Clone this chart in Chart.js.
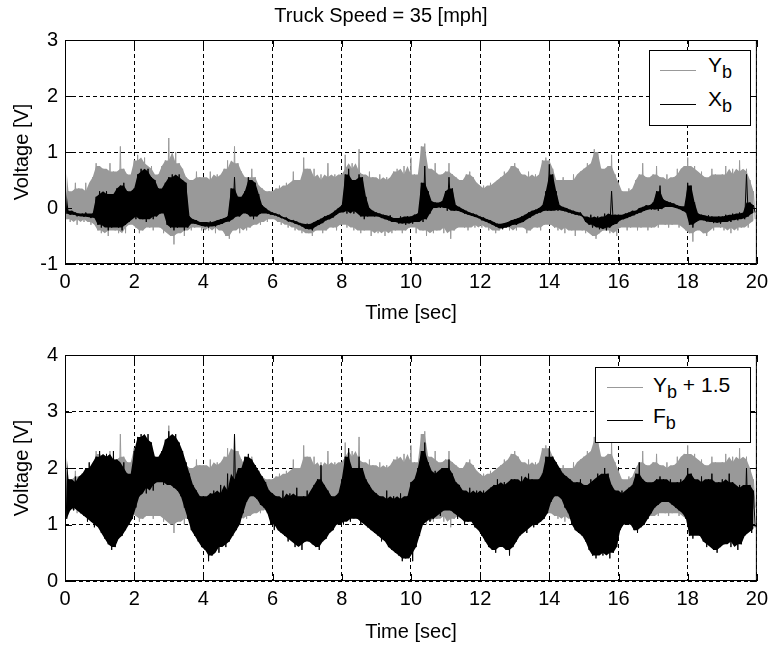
<!DOCTYPE html>
<html>
<head>
<meta charset="utf-8">
<script src="https://cdn.jsdelivr.net/npm/chart.js@4.4.1/dist/chart.umd.min.js"></script>
<style>
  body { margin: 0; background: #fff; }
  #wrap { position: relative; width: 774px; height: 647px; font-family: "Liberation Sans", Arial, sans-serif; }
  canvas { position: absolute; left: 0; }
  .leg { position: absolute; background: #fff; border: 1px solid #000; box-sizing: border-box; }
  .ln { position: absolute; height: 1px; }
  .tx { position: absolute; font-size: 21px; line-height: 21px; color: #000; white-space: nowrap; }
  .tx sub { font-size: 18px; vertical-align: -6px; line-height: 0; }
</style>
</head>
<body>
<div id="wrap">
  <canvas id="topChart" width="774" height="326" style="top:0"></canvas>
  <canvas id="botChart" width="774" height="321" style="top:326px"></canvas>

  <div class="leg" style="left:649px; top:50px; width:102px; height:76px"></div>
  <div class="ln" style="left:660px; top:70px; width:36px; background:#999"></div>
  <div class="tx" style="left:708px; top:54px">Y<sub>b</sub></div>
  <div class="ln" style="left:660px; top:104px; width:36px; background:#000"></div>
  <div class="tx" style="left:708px; top:88px">X<sub>b</sub></div>

  <div class="leg" style="left:595px; top:367px; width:156px; height:76px"></div>
  <div class="ln" style="left:607px; top:387px; width:36px; background:#999"></div>
  <div class="tx" style="left:653px; top:374px">Y<sub>b</sub> + 1.5</div>
  <div class="ln" style="left:607px; top:420px; width:36px; background:#000"></div>
  <div class="tx" style="left:653px; top:405px">F<sub>b</sub></div>
</div>
<script>
// sampled in 0.1 s bins: upper and lower excursion of each signal in that bin
var dt = 0.1;

var ybHi = [
  0.95, 0.3, 0.2, 0.45, 0.35, 0.25, 0.45, 0.3, 0.55, 0.8,
  0.75, 0.7, 0.6, 0.8, 0.65, 0.55, 1.1, 0.7, 0.6, 0.55,
  0.85, 0.95, 0.8, 0.9, 0.7, 0.75, 0.55, 0.6, 0.75, 0.85,
  1.25, 0.75, 1.0, 0.8, 0.7, 0.55, 0.5, 0.45, 0.65, 0.55,
  0.55, 0.5, 0.65, 0.45, 0.6, 0.55, 0.7, 0.85, 0.6, 1.1,
  0.8, 0.65, 0.55, 0.5, 0.7, 0.55, 0.4, 0.35, 0.3, 0.3,
  0.3, 0.35, 0.4, 0.3, 0.45, 0.4, 0.65, 0.5, 0.45, 0.9,
  0.7, 0.55, 0.7, 0.5, 0.6, 0.45, 0.8, 0.55, 0.6, 0.5,
  0.6, 0.95, 0.7, 0.8, 0.65, 1.05, 0.6, 0.5, 0.65, 0.55,
  0.5, 0.6, 0.45, 0.55, 0.5, 0.65, 0.7, 0.55, 0.75, 0.6,
  0.9, 0.6, 0.55, 1.1, 1.15, 0.7, 0.65, 0.8, 0.55, 0.6,
  0.65, 0.8, 0.6, 0.55, 0.5, 0.45, 0.6, 0.65, 0.55, 0.45,
  0.35, 0.4, 0.3, 0.45, 0.4, 0.5, 0.55, 0.65, 0.6, 0.75,
  0.8, 0.7, 0.6, 0.55, 0.65, 0.5, 0.6, 0.55, 0.85, 0.9,
  0.85, 0.7, 0.5, 0.45, 0.55, 0.5, 0.45, 0.6, 0.5, 0.65,
  0.7, 0.8, 0.75, 1.05, 1.0, 0.7, 0.6, 0.75, 0.95, 0.6,
  0.45, 0.3, 0.25, 0.35, 0.3, 0.5, 0.6, 0.8, 0.55, 0.5,
  0.6, 0.75, 0.55, 0.5, 0.6, 0.45, 0.55, 0.7, 0.6, 0.75,
  0.9, 0.7, 0.75, 0.6, 0.65, 0.55, 0.5, 0.7, 0.6, 0.5,
  0.6, 0.75, 0.55, 0.7, 0.6, 0.85, 0.65, 0.7, 0.5, 0.3
];
var ybLo = [
  -0.2, -0.25, -0.15, -0.3, -0.2, -0.25, -0.15, -0.3, -0.25, -0.4,
  -0.45, -0.4, -0.5, -0.35, -0.4, -0.45, -0.35, -0.45, -0.3, -0.25,
  -0.35, -0.45, -0.4, -0.3, -0.35, -0.4, -0.3, -0.35, -0.45, -0.4,
  -0.5, -0.65, -0.45, -0.4, -0.5, -0.35, -0.4, -0.35, -0.3, -0.4,
  -0.35, -0.4, -0.3, -0.45, -0.35, -0.4, -0.5, -0.55, -0.4, -0.35,
  -0.45, -0.3, -0.4, -0.35, -0.3, -0.25, -0.3, -0.2, -0.25, -0.15,
  -0.2, -0.25, -0.3, -0.25, -0.35, -0.3, -0.4, -0.35, -0.45, -0.4,
  -0.45, -0.5, -0.4, -0.35, -0.45, -0.4, -0.3, -0.35, -0.4, -0.3,
  -0.25, -0.35, -0.3, -0.4, -0.35, -0.45, -0.4, -0.35, -0.5, -0.4,
  -0.45, -0.4, -0.5, -0.35, -0.45, -0.4, -0.35, -0.45, -0.4, -0.35,
  -0.3, -0.45, -0.35, -0.4, -0.5, -0.35, -0.45, -0.4, -0.3, -0.45,
  -0.35, -0.55, -0.4, -0.35, -0.3, -0.35, -0.4, -0.3, -0.35, -0.3,
  -0.35, -0.3, -0.4, -0.35, -0.45, -0.4, -0.35, -0.3, -0.4, -0.35,
  -0.4, -0.3, -0.35, -0.45, -0.4, -0.3, -0.35, -0.4, -0.3, -0.25,
  -0.3, -0.35, -0.4, -0.3, -0.45, -0.35, -0.4, -0.5, -0.35, -0.4,
  -0.45, -0.4, -0.5, -0.55, -0.45, -0.4, -0.35, -0.45, -0.4, -0.5,
  -0.35, -0.3, -0.4, -0.35, -0.3, -0.4, -0.35, -0.3, -0.4, -0.35,
  -0.3, -0.35, -0.25, -0.3, -0.35, -0.3, -0.25, -0.35, -0.3, -0.4,
  -0.45, -0.6, -0.4, -0.35, -0.45, -0.5, -0.35, -0.4, -0.3, -0.35,
  -0.4, -0.35, -0.45, -0.3, -0.4, -0.35, -0.3, -0.35, -0.25, -0.2
];

var xbHi = [
  0.5, -0.05, -0.05, -0.08, -0.1, -0.1, -0.08, -0.12, -0.1, 0.2,
  0.3, 0.25, 0.3, 0.2, 0.25, 0.35, 0.4, 0.45, 0.3, 0.0,
  0.35, 0.6, 0.7, 0.65, 0.7, 0.55, 0.5, 0.35, 0.2, 0.45,
  0.55, 0.6, 0.55, 0.6, 0.5, 0.45, -0.15, -0.2, -0.22, -0.25,
  -0.25, -0.28, -0.24, -0.26, -0.22, -0.2, -0.18, -0.15, 0.35, 0.55,
  0.2, 0.1, 0.3, 0.55, 0.5, 0.45, 0.25, 0.05, 0.0, -0.05,
  -0.08, -0.1, -0.12, -0.16, -0.17, -0.21, -0.22, -0.24, -0.27, -0.29,
  -0.28, -0.3, -0.25, -0.22, -0.19, -0.15, -0.13, -0.1, -0.05, 0.0,
  0.05, 0.6, 0.7, 0.5, 0.1, 0.6, 0.55, 0.2, 0.0, -0.05,
  -0.08, -0.1, -0.12, -0.15, -0.13, -0.18, -0.2, -0.15, -0.18, -0.15,
  -0.15, -0.12, -0.1, 0.45, 0.75, 0.3, 0.12, 0.1, 0.08, 0.12,
  0.3, 0.55, 0.35, 0.05, 0.02, -0.02, -0.05, -0.08, -0.1, -0.12,
  -0.15, -0.17, -0.2, -0.22, -0.25, -0.28, -0.3, -0.27, -0.25, -0.22,
  -0.2, -0.18, -0.15, -0.12, -0.08, -0.05, -0.03, 0.0, 0.05, 0.3,
  0.78, 0.6, 0.3, 0.05, 0.02, 0.0, -0.03, -0.05, -0.07, -0.08,
  -0.15, -0.18, -0.12, -0.2, -0.15, -0.18, -0.1, -0.15, 0.3, -0.12,
  -0.12, -0.13, -0.1, -0.08, -0.05, -0.05, 0.0, 0.02, 0.05, 0.05,
  0.1, 0.3, 0.4, 0.15, 0.12, 0.1, 0.08, 0.05, 0.03, 0.0,
  0.45, 0.4, 0.1, -0.1, -0.12, -0.15, -0.13, -0.15, -0.17, -0.15,
  -0.15, -0.12, -0.14, -0.1, -0.12, -0.08, -0.1, 0.6, 0.1, 0.05
];
var xbLo = [
  -0.1, -0.12, -0.12, -0.15, -0.14, -0.16, -0.15, -0.18, -0.17, -0.3,
  -0.35, -0.3, -0.4, -0.35, -0.3, -0.35, -0.4, -0.3, -0.25, -0.1,
  -0.2, -0.15, -0.2, -0.25, -0.15, -0.2, -0.15, -0.1, -0.05, -0.3,
  -0.35, -0.4, -0.35, -0.3, -0.4, -0.35, -0.25, -0.28, -0.3, -0.32,
  -0.33, -0.35, -0.32, -0.33, -0.3, -0.28, -0.25, -0.24, -0.2, -0.15,
  -0.15, -0.05, -0.1, -0.15, -0.2, -0.15, -0.1, -0.05, -0.1, -0.12,
  -0.13, -0.15, -0.18, -0.2, -0.24, -0.25, -0.28, -0.3, -0.33, -0.37,
  -0.38, -0.4, -0.33, -0.3, -0.27, -0.22, -0.2, -0.17, -0.12, -0.08,
  -0.05, -0.1, -0.05, -0.1, -0.05, -0.15, -0.2, -0.15, -0.1, -0.15,
  -0.15, -0.18, -0.2, -0.22, -0.25, -0.25, -0.28, -0.27, -0.3, -0.25,
  -0.28, -0.25, -0.2, -0.25, -0.2, -0.1, 0.0, 0.02, 0.0, 0.03,
  -0.05, 0.0, -0.05, -0.05, -0.07, -0.1, -0.12, -0.14, -0.16, -0.18,
  -0.22, -0.24, -0.27, -0.3, -0.33, -0.36, -0.38, -0.35, -0.33, -0.3,
  -0.3, -0.27, -0.25, -0.2, -0.17, -0.13, -0.1, -0.08, -0.05, -0.05,
  -0.05, 0.0, -0.05, -0.03, -0.06, -0.08, -0.1, -0.12, -0.13, -0.15,
  -0.25, -0.3, -0.35, -0.3, -0.38, -0.35, -0.4, -0.35, -0.3, -0.28,
  -0.22, -0.2, -0.18, -0.15, -0.13, -0.1, -0.08, -0.05, -0.02, -0.03,
  0.0, -0.05, -0.02, 0.02, 0.03, 0.02, 0.0, -0.02, -0.05, -0.08,
  -0.3, -0.35, -0.25, -0.2, -0.22, -0.24, -0.25, -0.27, -0.25, -0.28,
  -0.25, -0.22, -0.25, -0.2, -0.22, -0.18, -0.2, -0.15, -0.1, -0.08
];

var fbHi = [
  2.6, 1.8, 1.7, 1.85, 1.75, 1.9, 2.0, 2.1, 1.95, 2.2,
  2.3, 2.2, 2.25, 2.1, 2.3, 2.15, 2.0, 2.1, 1.9, 1.8,
  2.3, 2.55, 2.6, 2.5, 2.6, 2.45, 2.2, 2.1, 2.3, 2.5,
  2.65, 2.55, 2.6, 2.45, 2.3, 2.1, 1.9, 1.7, 1.6, 1.5,
  1.5, 1.45, 1.55, 1.6, 1.5, 1.7, 1.55, 1.9, 1.6, 2.6,
  1.8, 2.0, 2.2, 2.25, 2.15, 2.05, 1.95, 1.85, 1.75, 1.6,
  1.55, 1.5, 1.45, 1.6, 1.4, 1.55, 1.5, 1.65, 1.45, 1.5,
  1.6, 1.5, 1.7, 1.8, 2.05, 1.7, 1.6, 1.5, 1.45, 1.55,
  1.8, 2.2, 2.35, 2.0, 1.9, 2.2, 2.0, 1.8, 1.7, 1.6,
  1.55, 1.5, 1.45, 1.6, 1.4, 1.5, 1.45, 1.55, 1.4, 1.5,
  1.75, 1.8, 2.0, 2.3, 2.45, 2.1, 1.9, 1.95, 1.85, 2.0,
  2.0, 2.15, 1.9, 1.75, 1.7, 1.6, 1.55, 1.65, 1.5, 1.6,
  1.55, 1.6, 1.5, 1.65, 1.7, 1.8, 1.6, 1.75, 1.7, 1.8,
  1.8, 1.7, 1.85, 1.75, 1.9, 1.8, 1.7, 1.8, 1.9, 2.2,
  2.35, 2.2, 2.1, 2.0, 1.9, 1.85, 1.8, 1.7, 1.75, 1.8,
  1.7, 1.6, 1.8, 1.75, 1.9, 1.85, 2.0, 1.9, 1.7, 1.6,
  1.55, 1.6, 1.5, 1.65, 1.7, 1.9, 2.1, 1.8, 1.75, 1.7,
  1.75, 1.8, 1.85, 1.8, 1.75, 1.8, 1.7, 1.75, 1.8, 1.7,
  2.0, 1.9, 1.8, 1.7, 1.85, 1.75, 1.8, 1.9, 1.7, 1.75,
  1.8, 1.7, 1.9, 1.75, 1.6, 1.7, 1.65, 2.0, 1.7, 1.6
];
var fbLo = [
  1.1, 1.3, 1.25, 1.35, 1.2, 1.15, 1.05, 1.1, 0.95, 1.0,
  0.85, 0.75, 0.65, 0.55, 0.6, 0.75, 0.8, 0.9, 1.0, 1.1,
  1.3, 1.5, 1.65, 1.55, 1.7, 1.6, 1.75, 1.8, 1.7, 1.75,
  1.7, 1.65, 1.6, 1.5, 1.3, 1.1, 0.9, 0.8, 0.7, 0.6,
  0.55, 0.35, 0.45, 0.6, 0.5, 0.65, 0.6, 0.7, 0.8, 0.9,
  1.0, 1.2, 1.4, 1.5, 1.55, 1.45, 1.35, 1.3, 1.2, 1.0,
  0.9, 1.0, 0.85, 0.8, 0.7, 0.75, 0.6, 0.65, 0.55, 0.7,
  0.7, 0.65, 0.6, 0.55, 0.7, 0.75, 0.85, 0.9, 1.0, 1.05,
  1.0, 1.1, 1.05, 1.2, 1.1, 1.0, 1.05, 0.95, 0.9, 0.85,
  0.8, 0.7, 0.75, 0.6, 0.55, 0.5, 0.45, 0.35, 0.4, 0.5,
  0.35, 0.6, 0.8, 1.0, 1.1, 1.05, 1.1, 1.2, 1.15, 1.25,
  1.3, 1.25, 1.2, 1.1, 1.15, 1.0, 1.05, 1.1, 0.95, 0.9,
  0.8, 0.7, 0.6, 0.55, 0.5, 0.6, 0.65, 0.55, 0.45, 0.6,
  0.7, 0.8, 0.9, 0.85, 1.0, 0.95, 1.0, 1.05, 1.1, 1.2,
  1.4, 1.5, 1.55, 1.45, 1.3, 1.2, 1.0, 0.9, 0.85, 0.8,
  0.7, 0.55, 0.45, 0.4, 0.5, 0.45, 0.55, 0.4, 0.5, 0.6,
  0.9, 1.0, 1.05, 1.0, 0.9, 0.85, 0.95, 1.0, 1.1, 1.2,
  1.3, 1.35, 1.4, 1.45, 1.4, 1.35, 1.3, 1.25, 1.2, 1.1,
  0.8, 0.75, 0.9, 0.8, 0.7, 0.6, 0.65, 0.55, 0.5, 0.6,
  0.65, 0.7, 0.6, 0.75, 0.55, 0.65, 0.8, 0.9, 0.85, 0.95
];
var ybOffset = 1.5;

// solid core of a band: median of a bin and its neighbours, so isolated
// single-bin peaks stay as thin spikes drawn by the trace
function core(vals) {
  var out = [];
  for (var i = 0; i < vals.length; i++) {
    var w = [vals[Math.max(i - 1, 0)], vals[i], vals[Math.min(i + 1, vals.length - 1)]];
    w.sort(function (a, b) { return a - b; });
    out.push(w[1]);
  }
  return out;
}

function pts(vals, shift, offset) {
  var out = [];
  for (var i = 0; i < vals.length; i++) {
    out.push({ x: i * dt + shift, y: vals[i] + offset });
  }
  return out;
}

// hi/lo pairs as one zig-zag trace
function zigzag(hi, lo, offset) {
  var out = [];
  for (var i = 0; i < hi.length; i++) {
    out.push({ x: i * dt, y: hi[i] + offset });
    out.push({ x: i * dt + dt / 2, y: lo[i] + offset });
  }
  return out;
}

// one signal = filled core band + the zig-zag trace over it
function signal(label, hi, lo, offset, color, order) {
  return [
    { label: label + " core hi", data: pts(core(hi), 0, offset), borderWidth: 0,
      borderColor: color, fill: false, order: order },
    { label: label + " core lo", data: pts(core(lo), dt / 2, offset), borderWidth: 0,
      borderColor: color, backgroundColor: color, fill: "-1", order: order },
    { label: label, data: zigzag(hi, lo, offset), borderColor: color, borderWidth: 1, order: order }
  ];
}

Chart.defaults.color = "#000";
Chart.defaults.font.family = "'Liberation Sans', Arial, sans-serif";

var frame = {
  id: "frame",
  afterDatasetsDraw: function (chart) {
    var ctx = chart.ctx, a = chart.chartArea;
    var sx = chart.scales.x, sy = chart.scales.y;
    ctx.save();
    ctx.setLineDash([]);
    ctx.strokeStyle = "#000";
    ctx.lineWidth = 1;
    ctx.strokeRect(a.left + 0.5, a.top + 0.5, a.right - a.left - 1, a.bottom - a.top - 1);
    ctx.beginPath();
    sx.ticks.forEach(function (t) {
      var p = Math.round(sx.getPixelForValue(t.value)) + 0.5;
      ctx.moveTo(p, a.top); ctx.lineTo(p, a.top + 7);
      ctx.moveTo(p, a.bottom); ctx.lineTo(p, a.bottom - 7);
    });
    sy.ticks.forEach(function (t) {
      var p = Math.round(sy.getPixelForValue(t.value)) + 0.5;
      ctx.moveTo(a.left, p); ctx.lineTo(a.left + 7, p);
      ctx.moveTo(a.right, p); ctx.lineTo(a.right - 7, p);
    });
    ctx.stroke();
    ctx.restore();
  }
};

function makeOptions(ymin, ymax, titleOpts, padTop, xTitlePad) {
  return {
    responsive: false,
    animation: false,
    devicePixelRatio: 1,
    layout: { padding: { left: 0, right: 12, top: padTop, bottom: 0 } },
    elements: { point: { radius: 0 }, line: { borderWidth: 1, tension: 0 } },
    plugins: {
      legend: { display: false },
      tooltip: { enabled: false },
      decimation: { enabled: false },
      title: titleOpts
    },
    scales: {
      x: {
        type: "linear", min: 0, max: 20,
        ticks: { stepSize: 2, padding: 6, font: { size: 20 } },
        grid: { color: "#000", lineWidth: 1, drawTicks: false },
        border: { display: false, dash: [4, 3] },
        title: { display: true, text: "Time [sec]", font: { size: 20 }, padding: xTitlePad }
      },
      y: {
        min: ymin, max: ymax,
        ticks: { stepSize: 1, padding: 7, font: { size: 20 } },
        grid: { color: "#000", lineWidth: 1, drawTicks: false },
        border: { display: false, dash: [4, 3] },
        title: { display: true, text: "Voltage [V]", font: { size: 20 }, padding: { top: 10, bottom: 0 } },
        afterFit: function (s) { s.width = 65; }
      }
    }
  };
}

new Chart(document.getElementById("topChart"), {
  type: "line",
  data: {
    datasets: signal("Y_b", ybHi, ybLo, 0, "#999", 1)
      .concat(signal("X_b", xbHi, xbLo, 0, "#000", 0))
  },
  options: makeOptions(-1, 3, {
    display: true, text: "Truck Speed = 35 [mph]",
    font: { size: 20, weight: "normal" }, color: "#000",
    padding: { top: 4, bottom: 12 }
  }, 0, { top: 1, bottom: 1 }),
  plugins: [frame]
});

new Chart(document.getElementById("botChart"), {
  type: "line",
  data: {
    datasets: signal("Y_b + 1.5", ybHi, ybLo, ybOffset, "#999", 1)
      .concat(signal("F_b", fbHi, fbLo, 0, "#000", 0))
  },
  options: makeOptions(0, 4, { display: false }, 29, { top: 3, bottom: 3 }),
  plugins: [frame]
});
</script>
</body>
</html>
